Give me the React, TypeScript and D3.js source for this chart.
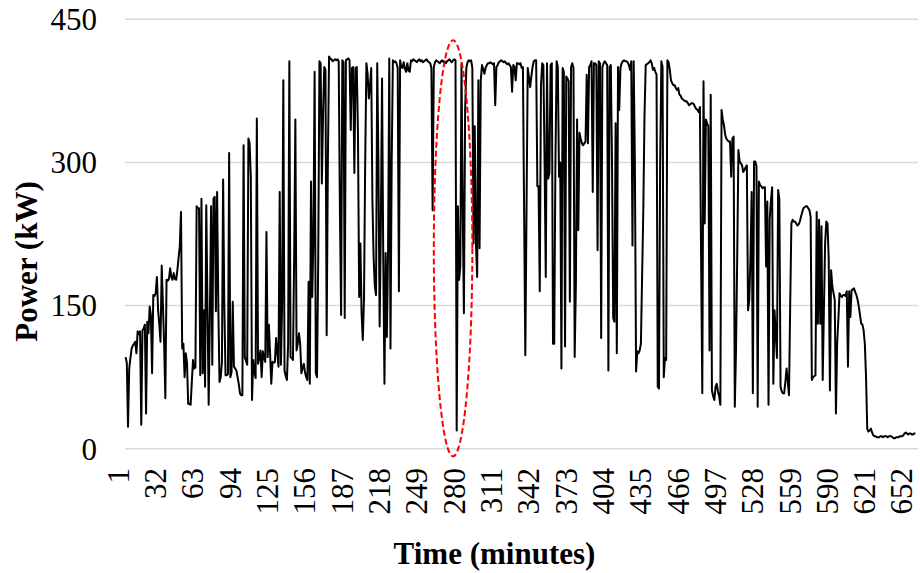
import * as d3 from 'd3';

// Power (kW), one reading per minute
const power: number[] = [
  96, 90, 23, 84, 95, 105, 108, 110, 112, 100, 123, 120, 123, 25, 124, 126, 130, 37, 133, 121,
  149, 140, 79, 161, 160, 163, 180, 145, 130, 112, 192, 150, 110, 53, 177, 176, 178, 189, 180, 177,
  184, 178, 177, 187, 200, 212, 248, 105, 110, 75, 100, 90, 47, 47, 46, 70, 93, 84, 85, 254,
  252, 252, 77, 262, 79, 145, 65, 255, 150, 46, 140, 254, 88, 262, 264, 144, 269, 150, 70, 75,
  90, 282, 150, 77, 77, 78, 310, 75, 80, 154, 86, 84, 82, 75, 68, 58, 56, 56, 318, 96,
  92, 88, 325, 320, 285, 51, 93, 80, 74, 346, 89, 95, 103, 75, 102, 95, 91, 227, 96, 130,
  100, 68, 91, 90, 91, 116, 100, 86, 269, 88, 150, 386, 82, 76, 72, 110, 406, 96, 95, 93,
  200, 345, 103, 110, 121, 110, 79, 85, 89, 80, 75, 72, 175, 68, 280, 159, 220, 395, 79, 75,
  200, 406, 404, 278, 350, 400, 397, 119, 300, 411, 409, 408, 406, 407, 408, 407, 408, 406, 250, 140,
  407, 405, 137, 407, 408, 409, 407, 334, 399, 400, 289, 399, 400, 330, 159, 215, 142, 114, 156, 300,
  404, 393, 367, 380, 399, 261, 200, 170, 161, 404, 300, 128, 233, 388, 200, 68, 205, 117, 206, 409,
  105, 300, 407, 405, 406, 404, 399, 165, 407, 400, 399, 405, 398, 395, 404, 396, 395, 407, 406, 408,
  407, 406, 405, 407, 408, 406, 407, 405, 406, 407, 408, 406, 405, 404, 399, 250, 400, 405, 407, 406,
  405, 404, 406, 407, 405, 406, 404, 406, 407, 408, 406, 405, 407, 408, 407, 19, 254, 177, 191, 404,
  250, 142, 355, 399, 405, 407, 406, 407, 399, 215, 338, 215, 180, 386, 210, 386, 402, 398, 393, 399,
  402, 404, 404, 405, 404, 403, 404, 360, 400, 402, 405, 406, 407, 406, 405, 406, 404, 403, 404, 402,
  400, 374, 402, 400, 386, 404, 404, 403, 404, 399, 400, 250, 98, 250, 399, 390, 379, 390, 400, 406,
  407, 407, 275, 275, 165, 380, 404, 402, 300, 180, 404, 283, 289, 402, 404, 110, 110, 300, 406, 400,
  285, 300, 84, 399, 395, 107, 390, 388, 385, 154, 400, 404, 399, 96, 173, 345, 229, 331, 325, 320,
  318, 320, 322, 392, 320, 400, 402, 406, 269, 404, 404, 402, 208, 406, 404, 116, 400, 404, 406, 404,
  402, 82, 400, 402, 300, 137, 133, 341, 100, 400, 355, 399, 404, 406, 407, 406, 406, 405, 402, 397,
  406, 213, 406, 300, 81, 102, 100, 103, 110, 180, 250, 350, 402, 403, 404, 405, 407, 404, 397, 399,
  395, 392, 65, 63, 300, 406, 400, 75, 95, 93, 407, 405, 397, 386, 383, 381, 381, 378, 376, 378,
  371, 370, 367, 366, 365, 364, 364, 362, 360, 361, 362, 362, 361, 358, 356, 355, 353, 358, 200, 58,
  385, 236, 345, 341, 338, 103, 371, 61, 55, 51, 65, 68, 60, 55, 46, 355, 345, 339, 329, 325,
  323, 322, 322, 285, 325, 327, 44, 103, 200, 313, 301, 299, 297, 290, 292, 295, 297, 145, 156, 200,
  269, 58, 301, 301, 296, 44, 280, 276, 275, 273, 274, 274, 191, 259, 46, 241, 260, 274, 68, 145,
  120, 95, 271, 261, 65, 60, 58, 58, 70, 84, 70, 56, 150, 236, 240, 238, 238, 236, 234, 235,
  238, 243, 248, 252, 253, 254, 254, 252, 250, 243, 72, 75, 76, 77, 248, 131, 240, 131, 233, 72,
  145, 215, 238, 236, 198, 61, 187, 170, 163, 156, 37, 110, 135, 163, 160, 159, 161, 161, 160, 165,
  86, 165, 138, 166, 167, 168, 164, 161, 156, 149, 140, 131, 130, 124, 110, 75, 21, 18, 19, 21,
  17, 14, 13, 13, 12, 12, 12, 13, 13, 12, 13, 13, 13, 12, 13, 13, 13, 12, 11, 11,
  12, 12, 12, 13, 13, 13, 14, 16, 17, 16, 15, 16, 16, 15, 15, 16, 16,
];

// category axis: minute number of each reading
const minutes = power.map((_, i) => i + 1);

const xTickLabels = [
  1, 32, 63, 94, 125, 156, 187, 218, 249, 280, 311, 342, 373, 404, 435, 466, 497, 528, 559, 590,
  621, 652,
];
const yTickValues = [0, 150, 300, 450];

// the dashed ellipse marking the dip (centre minute / kW and half sizes)
const markMinute = 273;
const markKw = 210;
const markHalfMinutes = 16;
const markHalfKw = 218;

const font = '"Liberation Serif", "Times New Roman", serif';

function App() {
  const width = 920;
  const height = 573;

  const left = 125;
  const right = 916;
  const top = 19.3;
  const bottom = 448.7;

  const x = d3.scaleBand<number>().domain(minutes).range([left, right]);
  const step = x.step();
  const xMid = (m: number) => (x(m) ?? 0) + x.bandwidth() / 2;
  const y = d3.scaleLinear().domain([0, 450]).range([bottom, top]);

  const line = d3
    .line<number>()
    .x((_, i) => xMid(minutes[i]))
    .y((d) => y(d));

  return (
    <svg
      width={width}
      height={height}
      style={{ position: 'absolute', left: 0, top: 0, background: '#fff' }}
    >
      {/* gridlines */}
      {yTickValues.map((v) => (
        <line
          key={'g' + v}
          x1={left}
          x2={right + 2}
          y1={y(v)}
          y2={y(v)}
          stroke="#d9d9d9"
          strokeWidth={1.5}
        />
      ))}

      {/* y tick labels */}
      {yTickValues.map((v) => (
        <text
          key={'y' + v}
          x={97}
          y={y(v)}
          dy="0.35em"
          textAnchor="end"
          fontFamily={font}
          fontSize={31}
          fill="#000"
        >
          {v}
        </text>
      ))}

      {/* x tick labels, rotated */}
      {xTickLabels.map((m) => (
        <text
          key={'x' + m}
          transform={`translate(${xMid(m)},468) rotate(-90)`}
          dy="0.1em"
          textAnchor="end"
          fontFamily={font}
          fontSize={31}
          fill="#000"
        >
          {m}
        </text>
      ))}

      <path
        d={line(power) ?? ''}
        fill="none"
        stroke="#000"
        strokeWidth={2}
        strokeLinejoin="round"
      />

      <ellipse
        cx={xMid(markMinute)}
        cy={y(markKw)}
        rx={markHalfMinutes * step}
        ry={y(0) - y(markHalfKw)}
        fill="none"
        stroke="#ff0000"
        strokeWidth={2}
        strokeDasharray="6,3"
      />

      <text
        transform="translate(36.5,261.5) rotate(-90)"
        textAnchor="middle"
        fontFamily={font}
        fontWeight="bold"
        fontSize={31}
        fill="#000"
      >
        Power (kW)
      </text>
      <text
        x={494.5}
        y={564}
        textAnchor="middle"
        fontFamily={font}
        fontWeight="bold"
        fontSize={31}
        fill="#000"
      >
        Time (minutes)
      </text>
    </svg>
  );
}

export default App;
